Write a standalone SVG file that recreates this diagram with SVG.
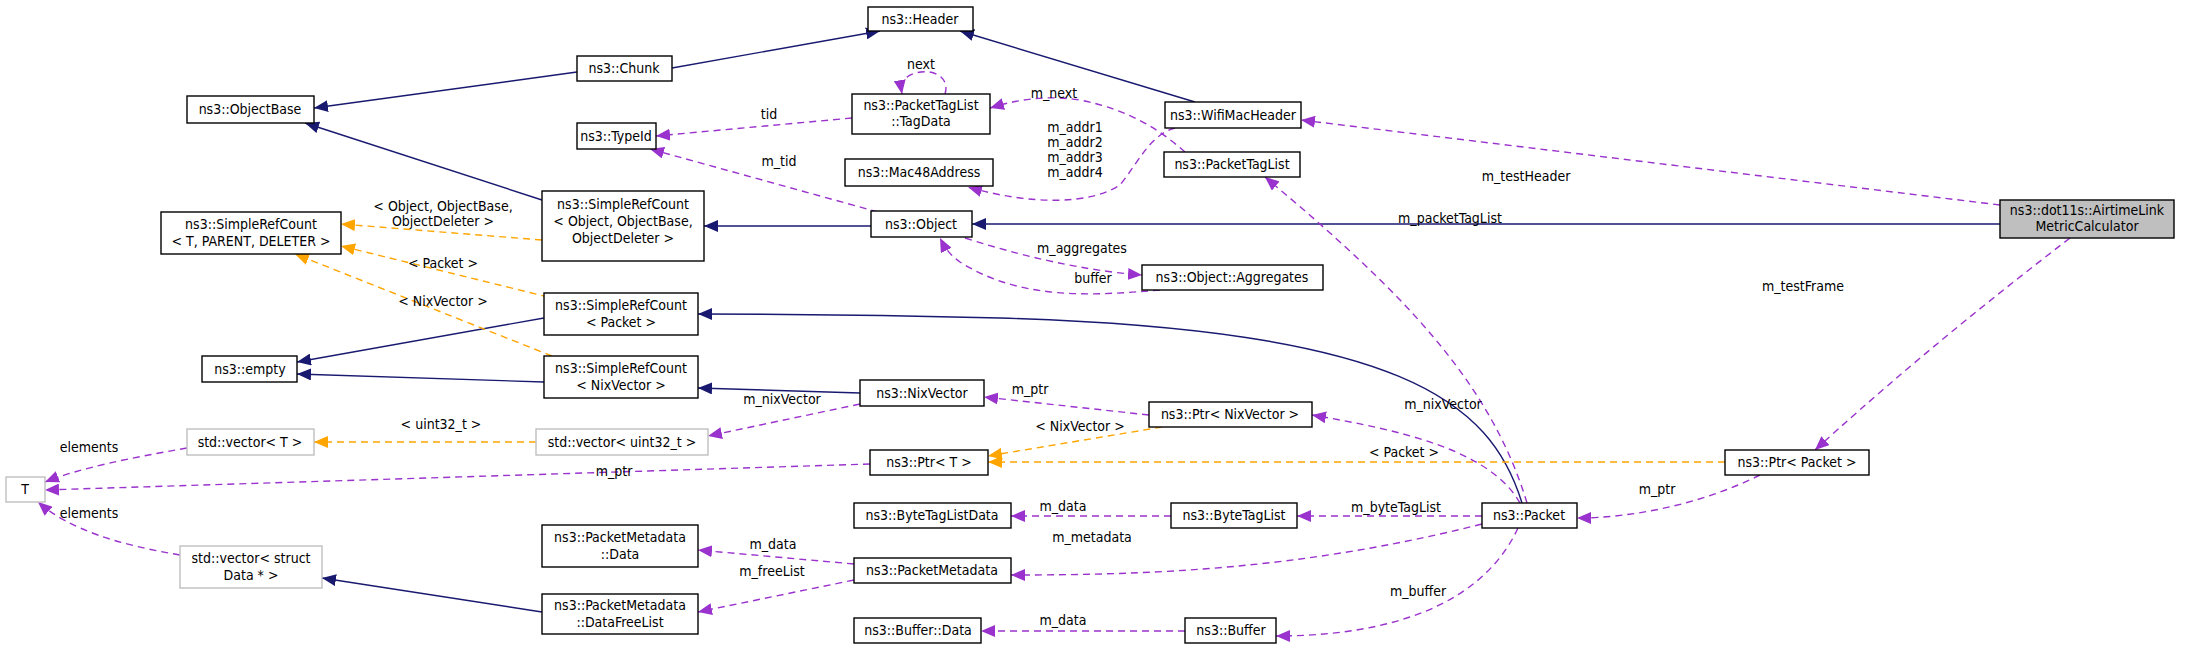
<svg xmlns="http://www.w3.org/2000/svg" width="2189" height="649" viewBox="0 0 2189 649">
<style>
.n rect{fill:#fff;stroke:#000;stroke-width:1.4}
.g rect{stroke:#bfbfbf}
.h rect{fill:#bfbfbf}
text{font-family:"DejaVu Sans Condensed","DejaVu Sans",sans-serif;font-size:14px;text-anchor:middle;fill:#000}
.e path{fill:none;stroke-width:1.4}
.i{stroke:#191970;marker-end:url(#ai)}
.u{stroke:#9a32cd;stroke-dasharray:7,5;marker-end:url(#au)}
.t{stroke:#ffa500;stroke-dasharray:7,5;marker-end:url(#at)}
</style>
<defs>
<marker id="ai" markerUnits="userSpaceOnUse" markerWidth="16" markerHeight="12" refX="14" refY="6" orient="auto"><path d="M0,0L14,6L0,12z" fill="#191970"/></marker>
<marker id="au" markerUnits="userSpaceOnUse" markerWidth="16" markerHeight="12" refX="14" refY="6" orient="auto"><path d="M0,0L14,6L0,12z" fill="#9a32cd"/></marker>
<marker id="at" markerUnits="userSpaceOnUse" markerWidth="16" markerHeight="12" refX="14" refY="6" orient="auto"><path d="M0,0L14,6L0,12z" fill="#ffa500"/></marker>
</defs>
<rect width="2189" height="649" fill="#fff"/>
<g id="edges" class="e">
<path class="i" d="M672,68L880,31"/>
<path class="i" d="M577,72L314,108"/>
<path class="i" d="M542,200L305,123"/>
<path class="i" d="M1195,102L960,31"/>
<path class="i" d="M871,226L704,226"/>
<path class="i" d="M2000,224L972,224"/>
<path class="i" d="M544,318L297,362"/>
<path class="i" d="M544,382L297,374"/>
<path class="i" d="M1522,503C1490,400 1400,330 1000,318C850,314 750,314 698,314"/>
<path class="i" d="M860,393L698,388"/>
<path class="i" d="M542,612L322,578"/>
<path class="t" d="M542,240L341,224"/>
<path class="t" d="M548,297L341,246"/>
<path class="t" d="M552,356L295,254"/>
<path class="t" d="M536,442L314,442"/>
<path class="t" d="M1162,427L988,456"/>
<path class="t" d="M1725,462L988,462"/>
<path class="u" d="M852,118L656,136"/>
<path class="u" d="M945,94C950,78 935,70 921,72C905,74 900,82 902,94"/>
<path class="u" d="M1185,152C1160,130 1130,110 1080,100C1040,94 1010,102 990,108"/>
<path class="u" d="M1175,128C1150,135 1140,160 1120,185C1090,205 1030,205 968,187"/>
<path class="u" d="M878,212L650,149"/>
<path class="u" d="M965,238C1040,262 1100,272 1142,275"/>
<path class="u" d="M1160,290C1090,296 1020,300 960,262C950,255 945,248 940,238"/>
<path class="u" d="M2000,205L1301,120"/>
<path class="u" d="M1527,503C1490,380 1400,290 1265,177"/>
<path class="u" d="M2070,238C1950,330 1870,400 1815,450"/>
<path class="u" d="M1760,475C1700,505 1630,518 1577,518"/>
<path class="u" d="M1520,503C1490,450 1400,430 1312,415"/>
<path class="u" d="M1149,415L984,397"/>
<path class="u" d="M860,404L708,436"/>
<path class="u" d="M187,448C130,458 80,468 45,482"/>
<path class="u" d="M870,464L45,490"/>
<path class="u" d="M180,555C120,545 70,530 38,502"/>
<path class="u" d="M1171,516L1011,516"/>
<path class="u" d="M1482,516L1297,516"/>
<path class="u" d="M1482,524C1300,570 1150,575 1011,575"/>
<path class="u" d="M854,564L698,550"/>
<path class="u" d="M854,580L698,612"/>
<path class="u" d="M1518,528C1480,610 1380,636 1276,636"/>
<path class="u" d="M1185,631L981,631"/>
</g>
<g id="labels">
<text x="921" y="69">next</text>
<text x="769" y="119">tid</text>
<text x="1054" y="98">m_next</text>
<text x="1075" y="132">m_addr1</text>
<text x="1075" y="147">m_addr2</text>
<text x="1075" y="162">m_addr3</text>
<text x="1075" y="177">m_addr4</text>
<text x="779" y="166">m_tid</text>
<text x="1082" y="253">m_aggregates</text>
<text x="1093" y="283">buffer</text>
<text x="1526" y="181">m_testHeader</text>
<text x="1450" y="223">m_packetTagList</text>
<text x="1803" y="291">m_testFrame</text>
<text x="1657" y="494">m_ptr</text>
<text x="1443" y="409">m_nixVector</text>
<text x="1030" y="394">m_ptr</text>
<text x="782" y="404">m_nixVector</text>
<text x="89" y="452">elements</text>
<text x="614" y="476">m_ptr</text>
<text x="89" y="518">elements</text>
<text x="1063" y="511">m_data</text>
<text x="1396" y="512">m_byteTagList</text>
<text x="1092" y="542">m_metadata</text>
<text x="773" y="549">m_data</text>
<text x="772" y="576">m_freeList</text>
<text x="1418" y="596">m_buffer</text>
<text x="1063" y="625">m_data</text>
<text x="443" y="211">&lt; Object, ObjectBase,</text>
<text x="443" y="226">ObjectDeleter &gt;</text>
<text x="443" y="268">&lt; Packet &gt;</text>
<text x="443" y="306">&lt; NixVector &gt;</text>
<text x="441" y="429">&lt; uint32_t &gt;</text>
<text x="1080" y="431">&lt; NixVector &gt;</text>
<text x="1404" y="457">&lt; Packet &gt;</text>
</g>
<g id="Header" class="n"><rect x="868" y="7" width="105" height="24"/><text x="920" y="24">ns3::Header</text></g>
<g id="Chunk" class="n"><rect x="577" y="56" width="95" height="25"/><text x="624" y="73">ns3::Chunk</text></g>
<g id="ObjectBase" class="n"><rect x="187" y="96" width="127" height="27"/><text x="250" y="114">ns3::ObjectBase</text></g>
<g id="TypeId" class="n"><rect x="577" y="123" width="79" height="26"/><text x="616" y="141">ns3::TypeId</text></g>
<g id="TagData" class="n"><rect x="852" y="94" width="138" height="40"/><text x="921" y="110">ns3::PacketTagList</text><text x="921" y="126">::TagData</text></g>
<g id="Mac48Address" class="n"><rect x="845" y="159" width="148" height="27"/><text x="919" y="177">ns3::Mac48Address</text></g>
<g id="WifiMacHeader" class="n"><rect x="1165" y="102" width="136" height="26"/><text x="1233" y="120">ns3::WifiMacHeader</text></g>
<g id="PacketTagList" class="n"><rect x="1164" y="152" width="136" height="25"/><text x="1232" y="169">ns3::PacketTagList</text></g>
<g id="SRCObject" class="n"><rect x="542" y="191" width="162" height="70"/><text x="623" y="209">ns3::SimpleRefCount</text><text x="623" y="226">&lt; Object, ObjectBase,</text><text x="623" y="243">ObjectDeleter &gt;</text></g>
<g id="Object" class="n"><rect x="871" y="211" width="101" height="26"/><text x="921" y="229">ns3::Object</text></g>
<g id="SRCT" class="n"><rect x="161" y="212" width="180" height="42"/><text x="251" y="229">ns3::SimpleRefCount</text><text x="251" y="246">&lt; T, PARENT, DELETER &gt;</text></g>
<g id="Aggregates" class="n"><rect x="1142" y="265" width="181" height="25"/><text x="1232" y="282">ns3::Object::Aggregates</text></g>
<g id="SRCPacket" class="n"><rect x="544" y="293" width="154" height="42"/><text x="621" y="310">ns3::SimpleRefCount</text><text x="621" y="327">&lt; Packet &gt;</text></g>
<g id="empty" class="n"><rect x="202" y="356" width="95" height="26"/><text x="250" y="374">ns3::empty</text></g>
<g id="SRCNixVector" class="n"><rect x="544" y="356" width="154" height="42"/><text x="621" y="373">ns3::SimpleRefCount</text><text x="621" y="390">&lt; NixVector &gt;</text></g>
<g id="NixVector" class="n"><rect x="860" y="380" width="124" height="26"/><text x="922" y="398">ns3::NixVector</text></g>
<g id="vectorT" class="n g"><rect x="187" y="429" width="127" height="26"/><text x="250" y="447">std::vector&lt; T &gt;</text></g>
<g id="vectorUint" class="n g"><rect x="536" y="429" width="172" height="26"/><text x="622" y="447">std::vector&lt; uint32_t &gt;</text></g>
<g id="PtrNixVector" class="n"><rect x="1149" y="402" width="163" height="25"/><text x="1230" y="419">ns3::Ptr&lt; NixVector &gt;</text></g>
<g id="PtrT" class="n"><rect x="870" y="450" width="118" height="25"/><text x="929" y="467">ns3::Ptr&lt; T &gt;</text></g>
<g id="T" class="n g"><rect x="6" y="477" width="39" height="25"/><text x="25" y="494">T</text></g>
<g id="PtrPacket" class="n"><rect x="1725" y="450" width="144" height="25"/><text x="1797" y="467">ns3::Ptr&lt; Packet &gt;</text></g>
<g id="Packet" class="n"><rect x="1482" y="503" width="95" height="25"/><text x="1529" y="520">ns3::Packet</text></g>
<g id="ByteTagListData" class="n"><rect x="854" y="503" width="157" height="25"/><text x="932" y="520">ns3::ByteTagListData</text></g>
<g id="ByteTagList" class="n"><rect x="1171" y="503" width="126" height="25"/><text x="1234" y="520">ns3::ByteTagList</text></g>
<g id="PMData" class="n"><rect x="542" y="525" width="156" height="42"/><text x="620" y="542">ns3::PacketMetadata</text><text x="620" y="559">::Data</text></g>
<g id="PacketMetadata" class="n"><rect x="854" y="558" width="157" height="25"/><text x="932" y="575">ns3::PacketMetadata</text></g>
<g id="vectorData" class="n g"><rect x="180" y="546" width="142" height="42"/><text x="251" y="563">std::vector&lt; struct</text><text x="251" y="580">Data * &gt;</text></g>
<g id="DataFreeList" class="n"><rect x="542" y="594" width="156" height="40"/><text x="620" y="610">ns3::PacketMetadata</text><text x="620" y="627">::DataFreeList</text></g>
<g id="BufferData" class="n"><rect x="854" y="618" width="127" height="25"/><text x="918" y="635">ns3::Buffer::Data</text></g>
<g id="Buffer" class="n"><rect x="1185" y="618" width="91" height="25"/><text x="1231" y="635">ns3::Buffer</text></g>
<g id="AirtimeLink" class="n h"><rect x="2000" y="200" width="174" height="38"/><text x="2087" y="215">ns3::dot11s::AirtimeLink</text><text x="2087" y="231">MetricCalculator</text></g>
</svg>
